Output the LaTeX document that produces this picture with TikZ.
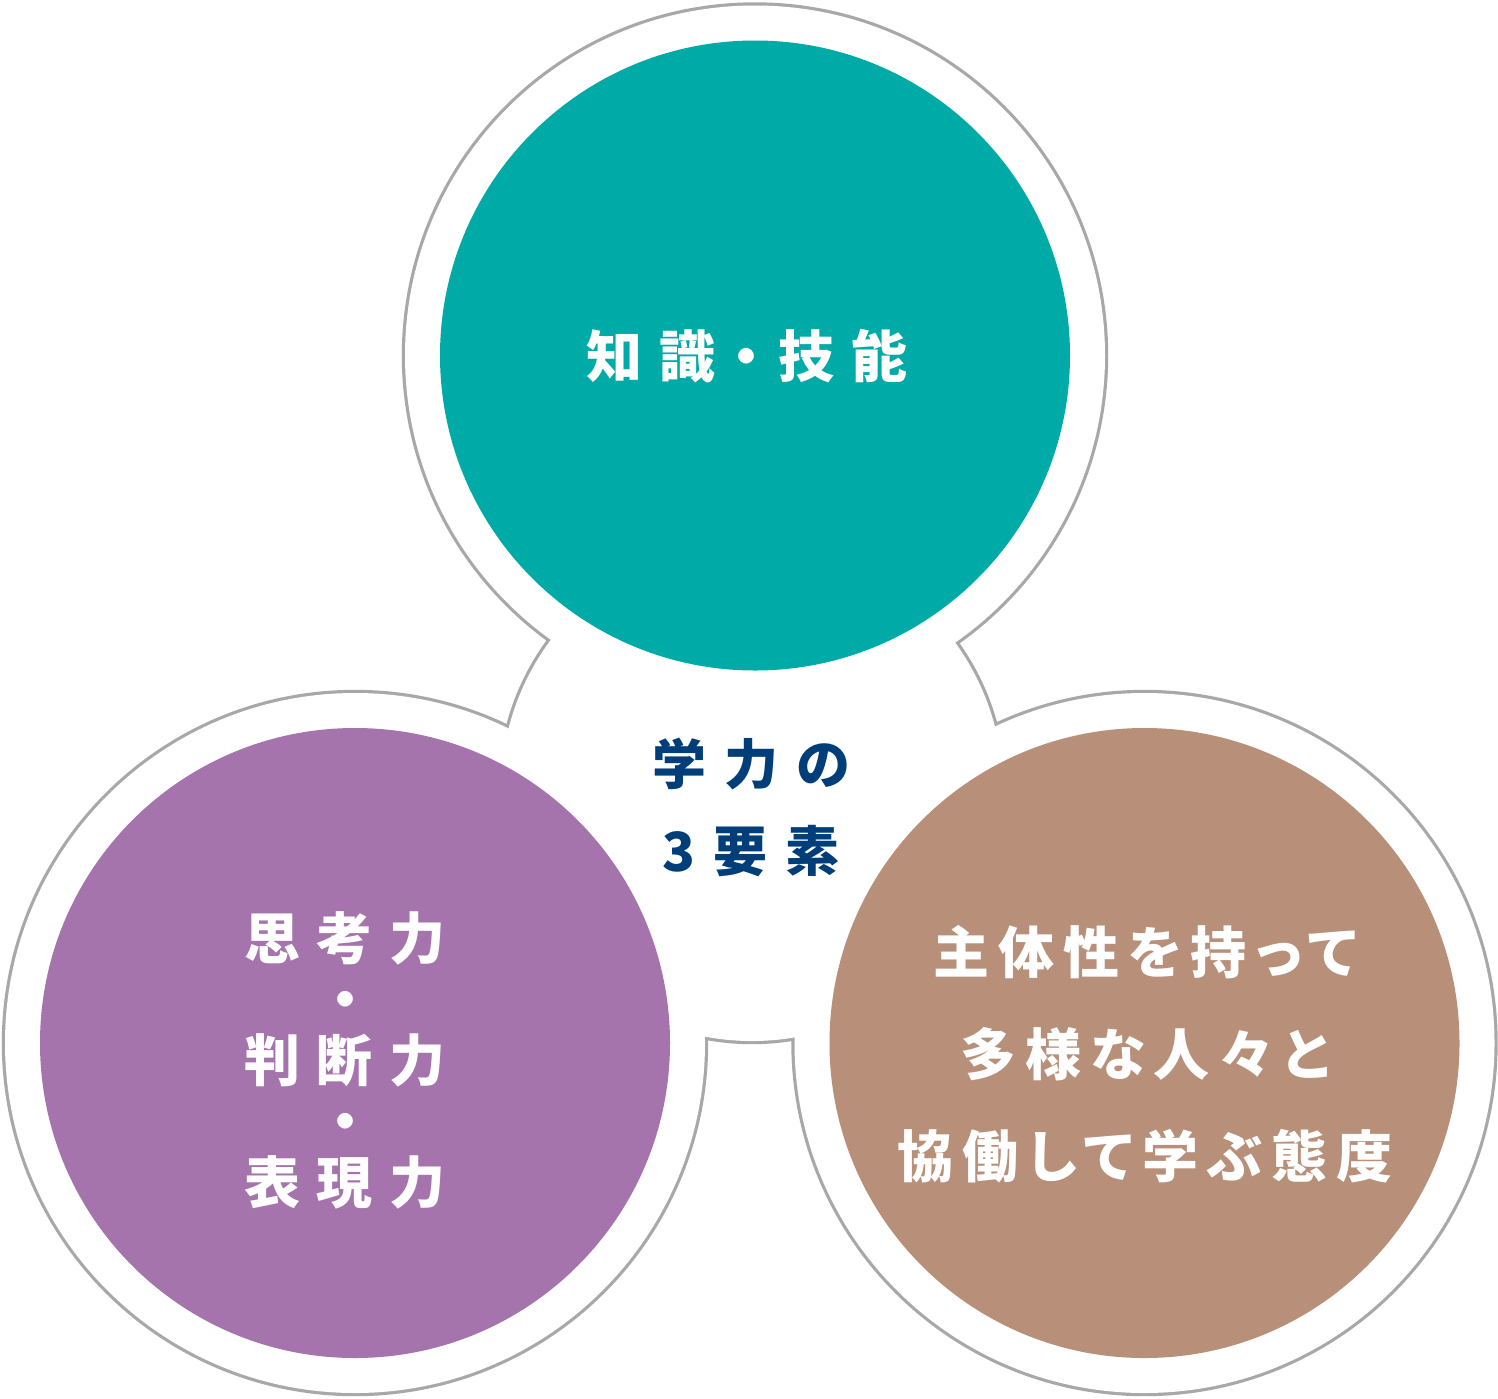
\documentclass[tikz,border=0pt]{standalone}
\usepackage{fontspec}
\newfontfamily\jpfont{Noto Sans CJK JP}[RawFeature=+palt]
\usetikzlibrary{positioning}
\definecolor{knowteal}{RGB}{0,170,167}
\definecolor{thinkpurple}{RGB}{165,116,173}
\definecolor{actbrown}{RGB}{184,143,120}
\definecolor{corenavy}{RGB}{0,62,122}
\definecolor{ringgray}{RGB}{168,168,168}
\tikzset{
  ring/.style={draw=ringgray, line width=3.2pt},
  elem/.style={circle, minimum size=315pt, inner sep=0pt},
  elemtext/.style={text=white, align=center, inner sep=0pt},
}
\begin{document}
\begin{tikzpicture}[x=0.5pt,y=-0.5pt]
    \useasboundingbox (0,0) rectangle (1498,1398);
    \coordinate (ck) at (755,355.5);
    \coordinate (ct) at (355,1043);
    \coordinate (ca) at (1144.5,1043);
    \coordinate (cm) at (752,790);
    % outline of the whole shape
    \foreach \c/\r in {ck/175pt,ct/175pt,ca/175pt,cm/125.5pt}
      \draw[ring] (\c) circle[radius=\r];
    \foreach \c/\r in {ck/175pt,ct/175pt,ca/175pt,cm/125.5pt}
      \fill[white] (\c) circle[radius=\r];
    % the three elements
    \node[elem, fill=knowteal] (know) at (ck) {};
    \node[elem, fill=thinkpurple] (think) at (ct) {};
    \node[elem, fill=actbrown] (act) at (ca) {};
    \node[elemtext, font={\jpfont\bfseries\fontsize{28pt}{30pt}\selectfont\addfontfeature{LetterSpace=31}}]
      (knowtext) at (747,356) {知識・技能};
    \node[elemtext, font={\jpfont\bfseries\fontsize{28pt}{30.5pt}\selectfont\addfontfeature{LetterSpace=30}}]
      (thinktext) at (345,1060) {思考力\\・\\判断力\\・\\表現力};
    \node[elemtext, font={\jpfont\bfseries\fontsize{28pt}{51pt}\selectfont\addfontfeature{LetterSpace=16}}]
      (acttext) at (1145,1054) {主体性を持って\\多様な人々と\\協働して学ぶ態度};
    \node[text=corenavy, align=center, inner sep=0pt,
      font={\jpfont\bfseries\fontsize{27pt}{43.5pt}\selectfont\addfontfeature{LetterSpace=33}}]
      (core) at (751,807.5) {学力の\\3要素};
\end{tikzpicture}
\end{document}
